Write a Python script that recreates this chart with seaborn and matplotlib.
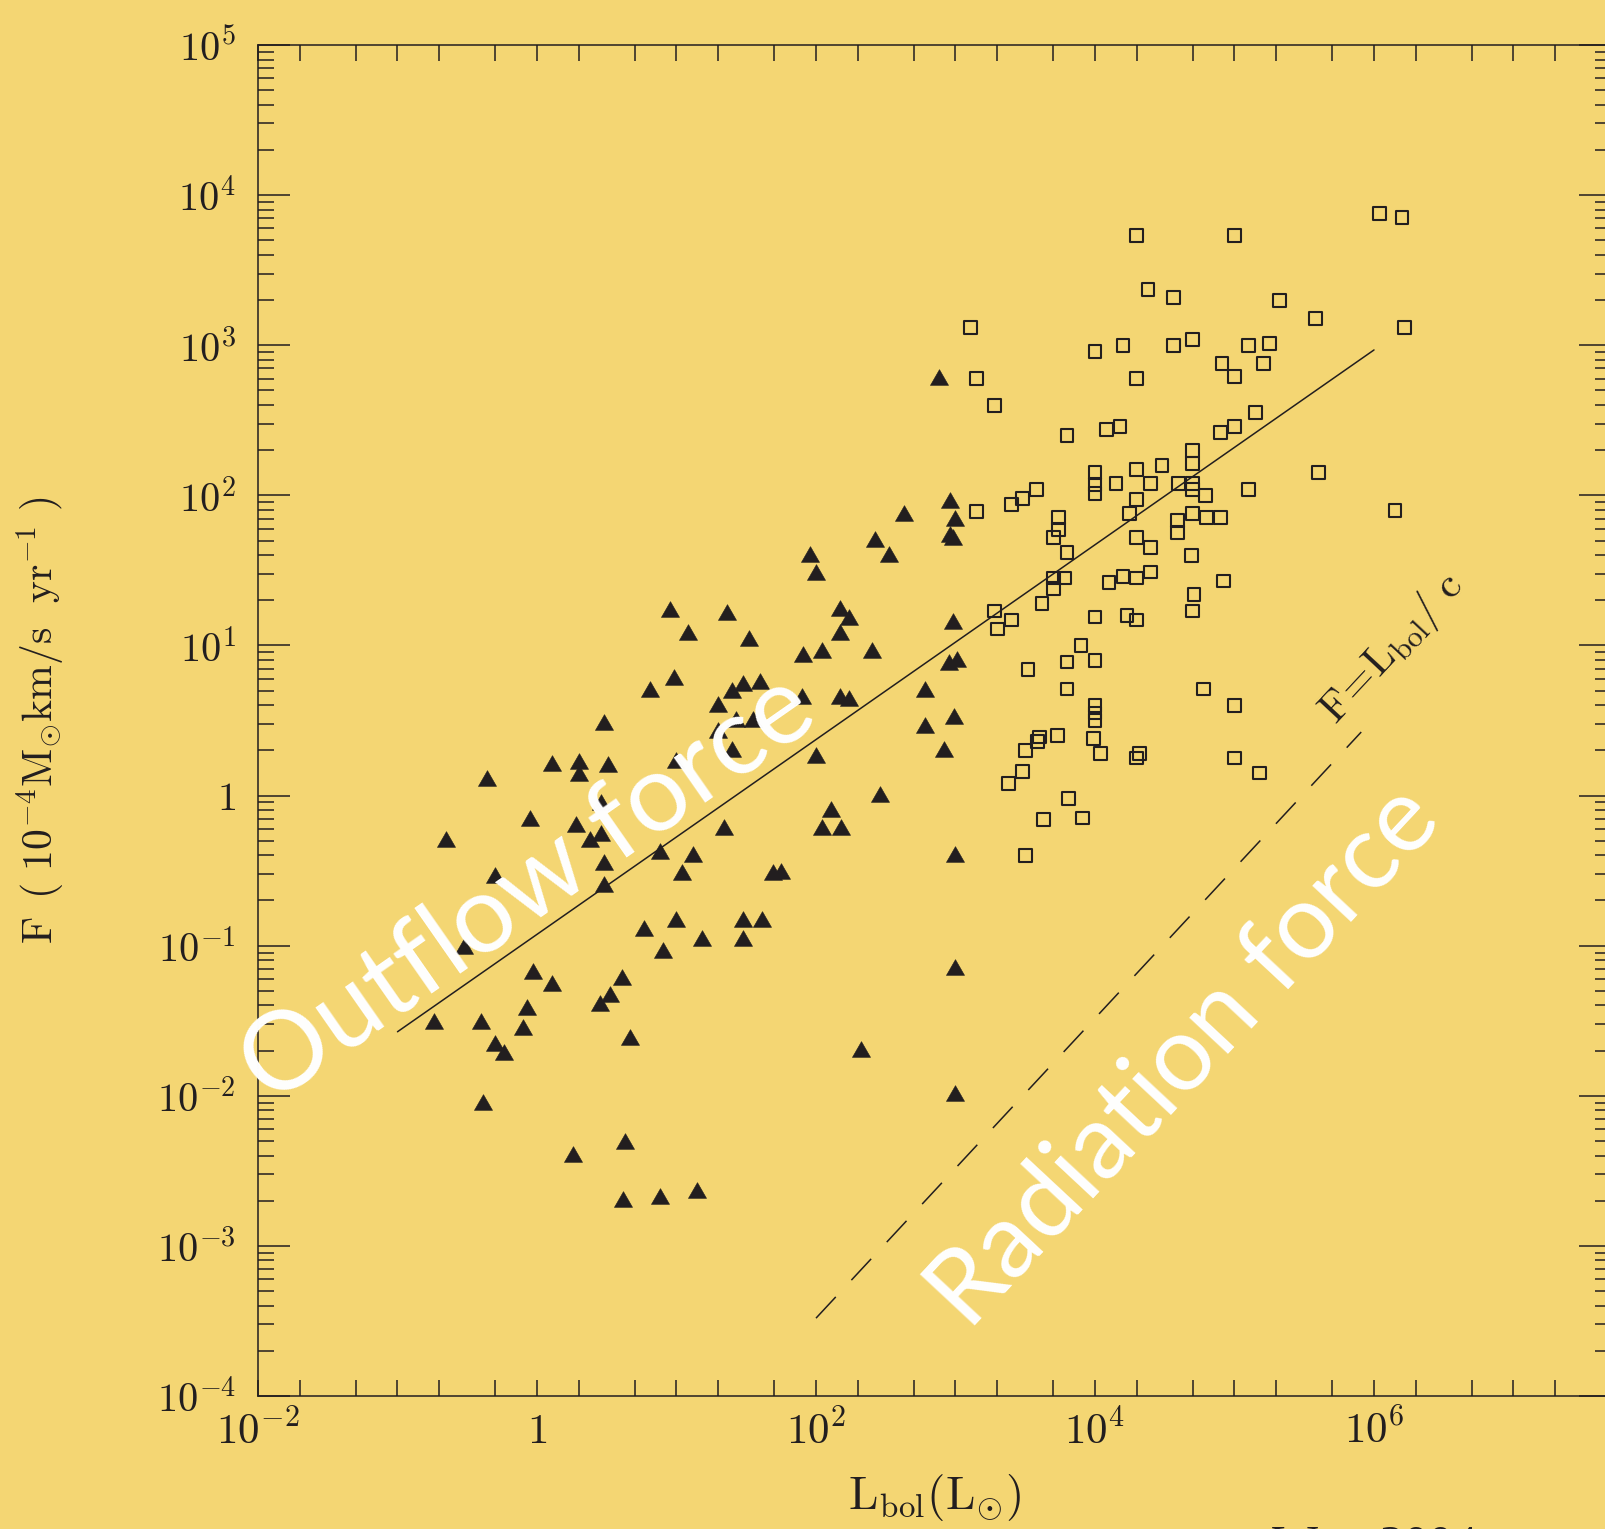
import numpy as np
import matplotlib
matplotlib.use("Agg")
import matplotlib.pyplot as plt
from matplotlib.ticker import FixedLocator, LogLocator, FuncFormatter, NullFormatter
import seaborn as sns

# low-mass sources (filled triangles): log10 L_bol [L_sun], log10 F [1e-4 Msun km/s/yr]
tri_log_lbol = [0.95, 1.36, 1.08, 1.52, 0.98, 0.81, 1.48, 1.60, 1.40, 1.30, 1.43, 1.55,
                1.30, 1.40, 0.48, 0.11, 0.30, 0.30, 0.51, 1.00, -0.36, 0.46, -0.05, 0.28,
                0.38, 0.46, -0.65, 0.48, 1.34, 0.88, 1.12, 1.04, 1.69, 1.75, -0.30, 0.48,
                0.77, 1.00, 1.48, 1.61, 1.18, 1.48, 0.90, -0.52,
                -0.03, 0.11, 0.61, 0.52, 0.45, -0.07, -0.74, -0.40, -0.10, -0.30, -0.24,
                0.67, -0.39, 0.63, 0.26, 0.62, 0.88, 1.15,
                2.96, 2.63, 3.00, 2.96, 2.98, 2.42, 2.52, 1.96, 2.00, 2.17, 2.24, 2.17,
                2.98, 1.91, 2.04, 2.40, 2.95, 3.01, 2.78, 1.90, 2.17, 2.24, 2.78, 2.99,
                2.92, 2.00, 2.46, 2.11, 2.04, 2.18, 3.00,
                2.88, 2.32, 3.00, 3.00]
tri_log_force = [1.24, 1.22, 1.09, 1.05, 0.79, 0.71, 0.75, 0.76, 0.70, 0.61, 0.51, 0.51,
                 0.44, 0.31, 0.49, 0.22, 0.23, 0.15, 0.21, 0.24, 0.12, -0.04, -0.15, -0.19,
                 -0.29, -0.25, -0.29, -0.44, -0.21, -0.37, -0.39, -0.51, -0.51, -0.50, -0.53, -0.59,
                 -0.88, -0.82, -0.82, -0.82, -0.95, -0.95, -1.03, -1.00,
                 -1.17, -1.25, -1.21, -1.32, -1.38, -1.41, -1.50, -1.50, -1.54, -1.65, -1.71,
                 -1.61, -2.04, -2.30, -2.39, -2.69, -2.67, -2.63,
                 1.97, 1.88, 1.85, 1.74, 1.72, 1.71, 1.61, 1.61, 1.49, 1.25, 1.19, 1.09,
                 1.16, 0.94, 0.97, 0.97, 0.89, 0.91, 0.71, 0.66, 0.66, 0.65, 0.47, 0.53,
                 0.31, 0.27, 0.01, -0.09, -0.21, -0.21, -0.39,
                 2.79, -1.69, -1.14, -1.98]

# high-mass sources (open squares)
sq_log_lbol = [6.04, 6.20, 4.30, 5.00, 4.38, 4.56, 5.32, 5.58, 6.22, 3.11, 4.00, 4.20,
               4.56, 4.70, 5.10, 5.25, 4.91, 5.21, 5.00, 4.30, 3.15, 3.28, 5.15, 5.00,
               4.90, 4.18, 4.08, 3.80, 4.70, 4.70, 4.48, 4.30, 4.00, 4.00, 4.00, 4.15,
               4.40, 4.60, 4.70, 4.70, 4.79, 5.60, 5.10, 4.30, 3.58, 3.48, 3.40, 3.15,
               4.25, 4.70, 4.80, 4.90, 4.59, 4.59, 6.15, 3.74, 3.74, 3.70, 4.30, 4.40,
               3.80, 4.69, 3.70, 3.78, 3.70, 4.10, 4.20, 4.30, 4.40, 4.92, 4.71, 3.62,
               3.28, 3.40, 3.30, 4.00, 4.23, 4.30, 4.70, 3.90, 3.80, 4.00, 3.52, 3.80,
               4.78, 5.00, 4.00, 4.00, 4.00, 3.60, 3.59, 3.73, 3.50, 3.99, 4.04, 4.32,
               4.30, 5.00, 5.18, 3.48, 3.38, 3.81, 3.63, 3.91, 3.50]
sq_log_force = [3.88, 3.85, 3.73, 3.73, 3.37, 3.32, 3.30, 3.18, 3.12, 3.12, 2.96, 3.00,
                3.00, 3.04, 3.00, 3.01, 2.88, 2.88, 2.79, 2.78, 2.78, 2.60, 2.55, 2.46,
                2.42, 2.46, 2.44, 2.40, 2.30, 2.21, 2.20, 2.17, 2.15, 2.07, 2.01, 2.08,
                2.08, 2.08, 2.08, 2.04, 2.00, 2.15, 2.04, 1.97, 2.04, 1.98, 1.94, 1.89,
                1.88, 1.88, 1.85, 1.85, 1.83, 1.75, 1.90, 1.85, 1.77, 1.72, 1.72, 1.65,
                1.62, 1.60, 1.45, 1.45, 1.38, 1.42, 1.46, 1.45, 1.49, 1.43, 1.34, 1.28,
                1.23, 1.17, 1.11, 1.19, 1.20, 1.17, 1.23, 1.00, 0.89, 0.90, 0.84, 0.71,
                0.71, 0.60, 0.60, 0.55, 0.50, 0.39, 0.36, 0.40, 0.30, 0.38, 0.28, 0.28,
                0.25, 0.25, 0.15, 0.16, 0.08, -0.02, -0.16, -0.15, -0.40]

# fitted outflow-force relation and the radiation force F = L_bol/c
fit_lbol = [1e-1, 1e6]
fit_force = [2.67e-2, 9.3e2]
rad_lbol = [1e2, 8.1e5]
rad_force = [3.3e-4, 2.65]

ink = "#221e1f"
bg = "#f4d673"

sns.set_style("ticks")
plt.rcParams["mathtext.fontset"] = "cm"
plt.rcParams["font.family"] = ["DejaVu Serif"]

fig = plt.figure(figsize=(16.05, 15.29), dpi=100, facecolor=bg)
ax = fig.add_axes([258 / 1605, 133 / 1529, 1353 / 1605, 1351 / 1529])
ax.set_facecolor("none")
ax.set_xscale("log")
ax.set_yscale("log")

tri_marker = [(-1, -0.87), (1, -0.87), (0, 0.87), (-1, -0.87)]
sns.scatterplot(x=10 ** np.array(tri_log_lbol), y=10 ** np.array(tri_log_force),
                marker=tri_marker, s=13 ** 2, color=ink, edgecolor=ink, linewidth=0.4,
                ax=ax, zorder=3)
sns.scatterplot(x=10 ** np.array(sq_log_lbol), y=10 ** np.array(sq_log_force),
                marker="s", s=9.2 ** 2, facecolor="none", edgecolor=ink, linewidth=1.5,
                ax=ax, zorder=3)

sns.lineplot(x=fit_lbol, y=fit_force, color=ink, linewidth=1.1, ax=ax)
sns.lineplot(x=rad_lbol, y=rad_force, color=ink, linewidth=1.1,
             linestyle=(0, (19, 15)), ax=ax)

ax.set_xlim(1e-2, 5e7)
ax.set_ylim(1e-4, 1e5)


def xfmt(v, pos):
    e = int(round(np.log10(v)))
    if e % 2:
        return ""
    return "$1$" if e == 0 else "$10^{%d}$" % e


def yfmt(v, pos):
    e = int(round(np.log10(v)))
    return "$1$" if e == 0 else "$10^{%d}$" % e


ax.xaxis.set_major_locator(FixedLocator([10.0 ** e for e in range(-2, 8)]))
ax.xaxis.set_minor_locator(LogLocator(base=10, subs=(2, 5), numticks=40))
ax.xaxis.set_major_formatter(FuncFormatter(xfmt))
ax.xaxis.set_minor_formatter(NullFormatter())
ax.yaxis.set_major_locator(FixedLocator([10.0 ** e for e in range(-4, 6)]))
ax.yaxis.set_minor_locator(LogLocator(base=10, subs=np.arange(2, 10), numticks=40))
ax.yaxis.set_major_formatter(FuncFormatter(yfmt))
ax.yaxis.set_minor_formatter(NullFormatter())

ax.tick_params(which="both", direction="in", top=True, right=True, width=1.1,
               color=ink, labelcolor=ink)
ax.tick_params(axis="x", which="both", length=11.5)
ax.tick_params(axis="y", which="major", length=23)
ax.tick_params(axis="y", which="minor", length=11.5)
ax.tick_params(axis="x", labelsize=31, pad=10)
ax.tick_params(axis="y", labelsize=29, pad=16)
for s in ax.spines.values():
    s.set_color(ink)
    s.set_linewidth(1.1)

ax.set_xlabel(r"$\mathrm{L_{bol}(L_{\odot})}$", fontsize=34, color=ink, va="top")
ax.xaxis.set_label_coords(0.5, -0.056)
ax.set_ylabel(r"$\mathrm{F\ \,(\ 10^{-4}M_{\odot}km/s\ \ yr^{-1}\ )}$", fontsize=30,
              color=ink)
ax.yaxis.set_label_coords(-0.142, 0.5)

ax.text(1.35e6, 9.5, r"$\mathrm{F\!=\!L_{bol}/\ c}$", fontsize=31, color=ink,
        rotation=47, ha="center", va="center", rotation_mode="anchor")

ax.text(10 ** -0.06, 10 ** -0.62, "Outflow force", fontsize=78, color="white",
        family="Lato", rotation=34.9, ha="center", va="center", rotation_mode="anchor",
        zorder=4)
ax.text(10 ** 4.64, 10 ** -1.74, "Radiation force", fontsize=75, color="white",
        family="Lato", rotation=47, ha="center", va="center", rotation_mode="anchor",
        zorder=4)

# credit line, cut by the bottom edge as in the source image
fig.text(1272 / 1605, -0.0196, "Wu+ 2004", fontsize=35, color=ink,
         family="Liberation Serif", ha="left", va="baseline")

fig.savefig("out.png", dpi=100, facecolor=bg)
